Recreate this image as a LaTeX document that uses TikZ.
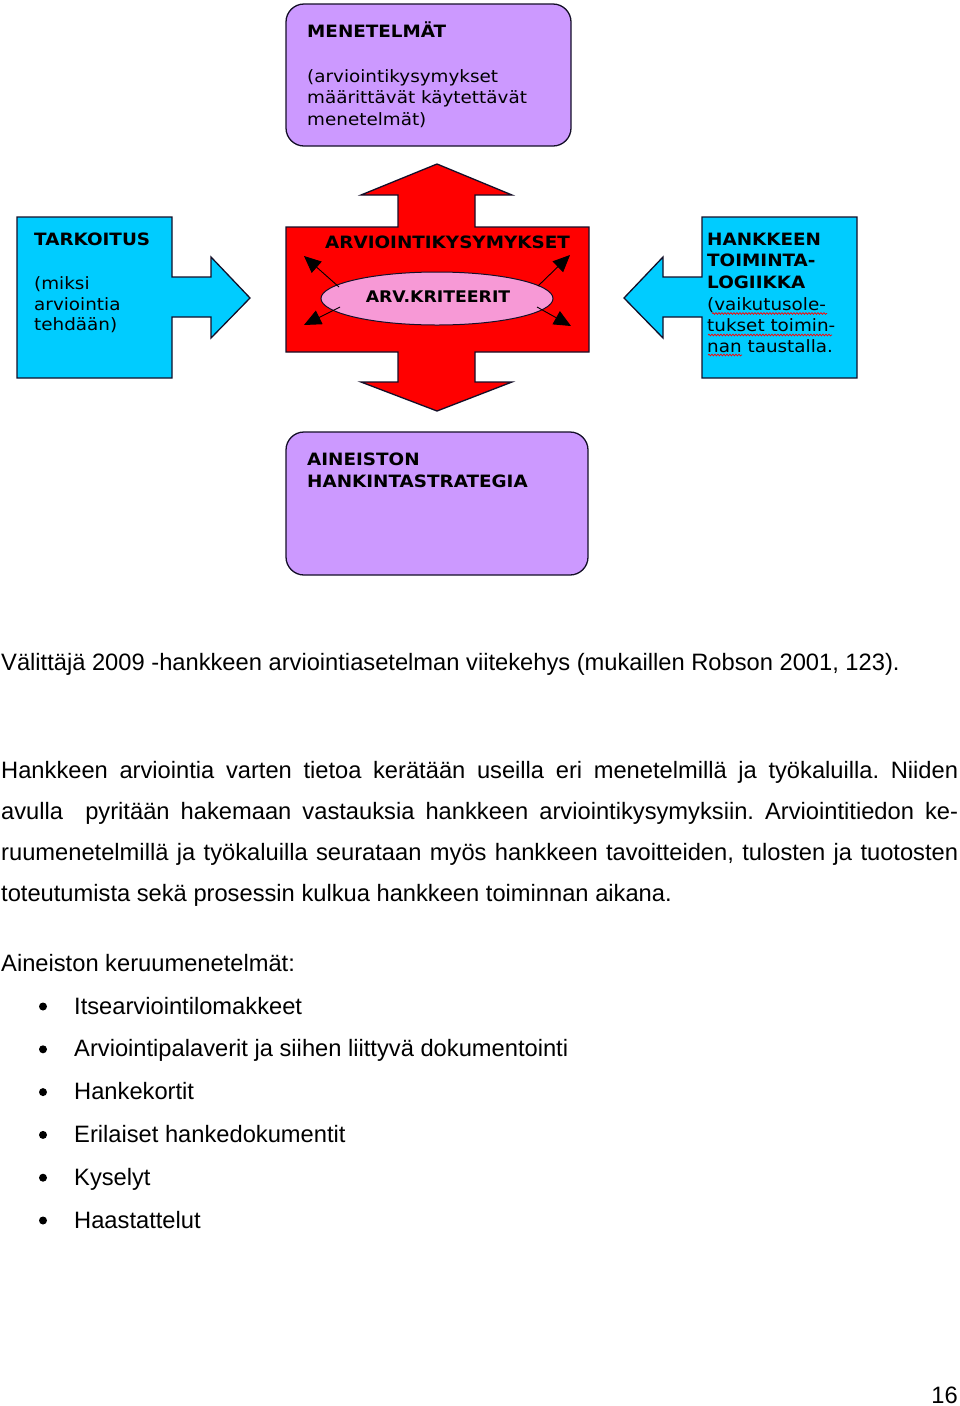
\documentclass[tikz,border=0pt]{standalone}
\usepackage{fontspec}
\setmainfont{Liberation Sans}
\newfontfamily\pixfont[FakeStretch=1.08]{DejaVu Sans}
\usetikzlibrary{arrows.meta,decorations.pathmorphing,shapes.geometric}
\definecolor{lavfill}{RGB}{204,153,255}
\definecolor{cyanfill}{RGB}{0,204,255}
\definecolor{arvred}{RGB}{255,0,0}
\definecolor{pinkfill}{RGB}{247,153,214}
\definecolor{edgecol}{RGB}{20,15,40}
\frenchspacing
\tikzset{
 lavbox/.style={draw=edgecol, line width=1.3pt, fill=lavfill, rounded corners=18pt, inner sep=0pt},
 shapeline/.style={draw=edgecol, line width=1.3pt, line join=miter},
 pixtxt/.style={font=\pixfont\fontsize{17}{21}\selectfont, anchor=base west, inner sep=0pt},
 pixbold/.style={font=\pixfont\bfseries\fontsize{17}{21}\selectfont, anchor=base west, inner sep=0pt},
 bodytxt/.style={font=\fontsize{23.7}{29}\selectfont, anchor=base west, inner sep=0pt},
 blackarrow/.style={line width=0.9pt, -{Triangle[length=17pt,width=15pt]}},
 squiggle/.style={draw=red, line width=0.7pt, decorate, decoration={snake, amplitude=0.9pt, segment length=3pt}},
 bulletdot/.style={circle, fill=black, inner sep=0pt, minimum size=8pt},
}
\begin{document}
\begin{tikzpicture}[x=1pt,y=-1pt]
\useasboundingbox (0,0) rectangle (960,1406);
\fill[white] (0,0) rectangle (960,1406);

% MENETELMAT box
\node[lavbox, minimum width=285pt, minimum height=142pt] (menbox) at (428.5,75) {};
\node[pixbold] (menT) at (307,37) {MENETELMÄT};
\node[pixtxt] (menL1) at (307,82) {(arviointikysymykset};
\node[pixtxt] (menL2) at (307,103.5) {määrittävät käytettävät};
\node[pixtxt] (menL3) at (307,125) {menetelmät)};

% red double arrow
\path[shapeline, fill=arvred] (286,227) -- (398,227) -- (398,195) -- (361,195) -- (437,164) -- (512,195) -- (475,195) -- (475,227) -- (589,227) -- (589,352) -- (475,352) -- (475,382) -- (512,382) -- (437,411) -- (361,382) -- (398,382) -- (398,352) -- (286,352) -- cycle;
\node[pixbold] (arvT) at (325,248) {ARVIOINTIKYSYMYKSET};
\node[ellipse, draw=edgecol, line width=1pt, fill=pinkfill, minimum width=232pt, minimum height=53pt, inner sep=0pt] (krit) at (437,298.5) {};
\node[pixbold, anchor=base, font=\pixfont\bfseries\fontsize{16}{20}\selectfont] (kritT) at (438,302) {ARV.KRITEERIT};
\coordinate (ulS) at (339,287); \coordinate (ulT) at (304,256);
\coordinate (urS) at (538,286); \coordinate (urT) at (570,255);
\coordinate (llS) at (340,307); \coordinate (llT) at (304,325);
\coordinate (lrS) at (537,307); \coordinate (lrT) at (571,326);
\draw[blackarrow] (ulS) -- (ulT);
\draw[blackarrow] (urS) -- (urT);
\draw[blackarrow] (llS) -- (llT);
\draw[blackarrow] (lrS) -- (lrT);

% TARKOITUS box with arrow
\path[shapeline, fill=cyanfill] (17,217) -- (172,217) -- (172,277) -- (211,277) -- (211,257) -- (250,298) -- (211,338) -- (211,317) -- (172,317) -- (172,378) -- (17,378) -- cycle;
\node[pixbold] (tarT) at (34,245) {TARKOITUS};
\node[pixtxt] (tarL1) at (34,289) {(miksi};
\node[pixtxt] (tarL2) at (34,310) {arviointia};
\node[pixtxt] (tarL3) at (34,330) {tehdään)};

% HANKKEEN box with arrow
\path[shapeline, fill=cyanfill] (702,217) -- (857,217) -- (857,378) -- (702,378) -- (702,317) -- (663,317) -- (663,338) -- (624,298) -- (663,257) -- (663,277) -- (702,277) -- cycle;
\node[pixbold] (hanT1) at (707,245) {HANKKEEN};
\node[pixbold] (hanT2) at (707,266.5) {TOIMINTA-};
\node[pixbold] (hanT3) at (707,288) {LOGIIKKA};
\node[pixtxt] (hanL1) at (707,310) {(vaikutusole-};
\node[pixtxt] (hanL2) at (707,331) {tukset toimin-};
\node[pixtxt] (hanL3) at (707,352) {nan taustalla.};
\coordinate (sq1a) at (712,313.5); \coordinate (sq1b) at (827,313.5);
\coordinate (sq2a) at (708,335); \coordinate (sq2b) at (832,335);
\coordinate (sq3a) at (708,355); \coordinate (sq3b) at (742,355);
\draw[squiggle] (sq1a) -- (sq1b);
\draw[squiggle] (sq2a) -- (sq2b);
\draw[squiggle] (sq3a) -- (sq3b);

% AINEISTON box
\node[lavbox, minimum width=302pt, minimum height=143pt] (ainbox) at (437,503.5) {};
\node[pixbold] (ainT1) at (307,465.5) {AINEISTON};
\node[pixbold] (ainT2) at (307,487) {HANKINTASTRATEGIA};

% text below
\node[bodytxt] (cap) at (1,670) {Välittäjä 2009 -hankkeen arviointiasetelman viitekehys (mukaillen Robson 2001, 123).};
\node[bodytxt] (p1) at (1,778) {\makebox[957pt][s]{Hankkeen arviointia varten tietoa kerätään useilla eri menetelmillä ja työkaluilla. Niiden}};
\node[bodytxt] (p2) at (1,819) {\makebox[957pt][s]{avulla\ \ pyritään hakemaan vastauksia hankkeen arviointikysymyksiin. Arviointitiedon ke-}};
\node[bodytxt] (p3) at (1,860) {\makebox[957pt][s]{ruumenetelmillä ja työkaluilla seurataan myös hankkeen tavoitteiden, tulosten ja tuotosten}};
\node[bodytxt] (p4) at (1,901) {toteutumista sekä prosessin kulkua hankkeen toiminnan aikana.};
\node[bodytxt] (ain) at (1,971) {Aineiston keruumenetelmät:};

\node[bulletdot] (b1) at (43,1006.5) {};
\node[bulletdot] (b2) at (43,1049.3) {};
\node[bulletdot] (b3) at (43,1092.1) {};
\node[bulletdot] (b4) at (43,1134.9) {};
\node[bulletdot] (b5) at (43,1177.7) {};
\node[bulletdot] (b6) at (43,1220.5) {};
\node[bodytxt] (i1) at (74,1014) {Itsearviointilomakkeet};
\node[bodytxt] (i2) at (74,1056.8) {Arviointipalaverit ja siihen liittyvä dokumentointi};
\node[bodytxt] (i3) at (74,1099.6) {Hankekortit};
\node[bodytxt] (i4) at (74,1142.4) {Erilaiset hankedokumentit};
\node[bodytxt] (i5) at (74,1185.2) {Kyselyt};
\node[bodytxt] (i6) at (74,1228) {Haastattelut};

\node[bodytxt, anchor=base east] (pg) at (958,1403.5) {16};
\end{tikzpicture}
\end{document}
